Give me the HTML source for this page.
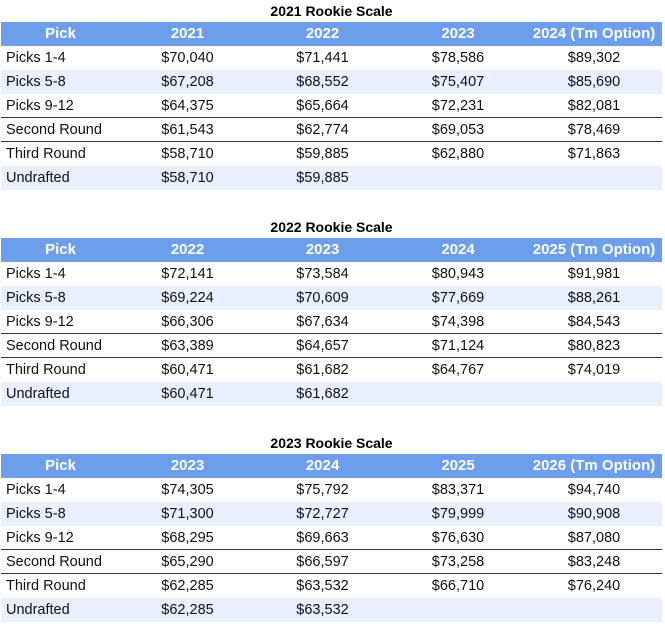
<!DOCTYPE html><html><head><style>
body{margin:0;width:665px;height:624px;background:#fff;font-family:"Liberation Sans",Arial,sans-serif;position:relative;overflow:hidden}
.t{position:absolute;left:1px;width:661px}
.ti{height:22px;line-height:22px;text-align:center;font-weight:bold;font-size:14px;color:#000}
.r{display:flex;height:24px;line-height:24px;font-size:14.5px;color:#111;box-sizing:border-box}
.r div{text-align:center}
.r div:nth-child(1){width:119px;text-align:left;padding-left:5px;box-sizing:border-box}
.r div:nth-child(2),.r div:nth-child(3){width:135px}
.r div:nth-child(4){width:136px}
.r div:nth-child(5){width:136px}
.h{background:#6d9eeb;color:#fff;font-weight:bold;font-size:15px}
.h div:nth-child(1){text-align:center;padding-left:0}
.s{background:#e8f0fe}
.b{border-bottom:1px solid #333}
</style></head><body>
<div class="t" style="top:0">
<div class="ti">2021 Rookie Scale</div>
<div class="r h"><div>Pick</div><div>2021</div><div>2022</div><div>2023</div><div>2024 (Tm Option)</div></div>
<div class="r"><div>Picks 1-4</div><div>$70,040</div><div>$71,441</div><div>$78,586</div><div>$89,302</div></div>
<div class="r s"><div>Picks 5-8</div><div>$67,208</div><div>$68,552</div><div>$75,407</div><div>$85,690</div></div>
<div class="r b"><div>Picks 9-12</div><div>$64,375</div><div>$65,664</div><div>$72,231</div><div>$82,081</div></div>
<div class="r b"><div>Second Round</div><div>$61,543</div><div>$62,774</div><div>$69,053</div><div>$78,469</div></div>
<div class="r"><div>Third Round</div><div>$58,710</div><div>$59,885</div><div>$62,880</div><div>$71,863</div></div>
<div class="r s"><div>Undrafted</div><div>$58,710</div><div>$59,885</div><div></div><div></div></div>
</div>
<div class="t" style="top:216px">
<div class="ti">2022 Rookie Scale</div>
<div class="r h"><div>Pick</div><div>2022</div><div>2023</div><div>2024</div><div>2025 (Tm Option)</div></div>
<div class="r"><div>Picks 1-4</div><div>$72,141</div><div>$73,584</div><div>$80,943</div><div>$91,981</div></div>
<div class="r s"><div>Picks 5-8</div><div>$69,224</div><div>$70,609</div><div>$77,669</div><div>$88,261</div></div>
<div class="r b"><div>Picks 9-12</div><div>$66,306</div><div>$67,634</div><div>$74,398</div><div>$84,543</div></div>
<div class="r b"><div>Second Round</div><div>$63,389</div><div>$64,657</div><div>$71,124</div><div>$80,823</div></div>
<div class="r"><div>Third Round</div><div>$60,471</div><div>$61,682</div><div>$64,767</div><div>$74,019</div></div>
<div class="r s"><div>Undrafted</div><div>$60,471</div><div>$61,682</div><div></div><div></div></div>
</div>
<div class="t" style="top:432px">
<div class="ti">2023 Rookie Scale</div>
<div class="r h"><div>Pick</div><div>2023</div><div>2024</div><div>2025</div><div>2026 (Tm Option)</div></div>
<div class="r"><div>Picks 1-4</div><div>$74,305</div><div>$75,792</div><div>$83,371</div><div>$94,740</div></div>
<div class="r s"><div>Picks 5-8</div><div>$71,300</div><div>$72,727</div><div>$79,999</div><div>$90,908</div></div>
<div class="r b"><div>Picks 9-12</div><div>$68,295</div><div>$69,663</div><div>$76,630</div><div>$87,080</div></div>
<div class="r b"><div>Second Round</div><div>$65,290</div><div>$66,597</div><div>$73,258</div><div>$83,248</div></div>
<div class="r"><div>Third Round</div><div>$62,285</div><div>$63,532</div><div>$66,710</div><div>$76,240</div></div>
<div class="r s"><div>Undrafted</div><div>$62,285</div><div>$63,532</div><div></div><div></div></div>
</div>
</body></html>
